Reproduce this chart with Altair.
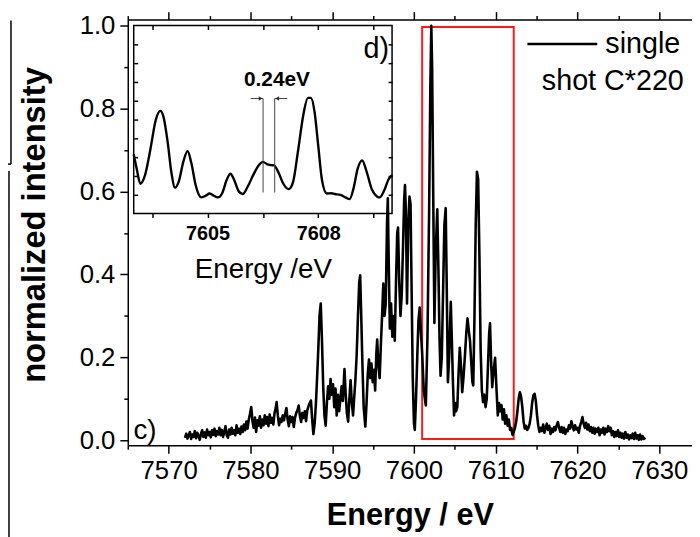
import altair as alt
import pandas as pd

FONT = "Liberation Sans"

# ---------------- data ----------------
# main spectrum: (energy eV, normalized intensity)
spectrum_points = [
    (7572.00, 0.006), (7572.15, 0.016), (7572.30, 0.004), (7572.45, 0.012), (7572.60, 0.020),
    (7572.75, 0.003), (7572.90, 0.014), (7573.05, 0.008), (7573.20, 0.022), (7573.35, 0.005),
    (7573.50, 0.018), (7573.65, 0.010), (7573.80, 0.001), (7573.95, 0.016), (7574.10, 0.024),
    (7574.25, 0.008), (7574.40, 0.019), (7574.55, 0.006), (7574.70, 0.026), (7574.85, 0.012),
    (7575.00, 0.020), (7575.15, 0.007), (7575.30, 0.024), (7575.45, 0.013), (7575.60, 0.028),
    (7575.75, 0.010), (7575.90, 0.022), (7576.05, 0.014), (7576.20, 0.030), (7576.35, 0.012),
    (7576.50, 0.025), (7576.65, 0.008), (7576.80, 0.020), (7576.95, 0.034), (7577.10, 0.012),
    (7577.25, 0.006), (7577.40, 0.026), (7577.55, 0.014), (7577.70, 0.030), (7577.85, 0.016),
    (7578.00, 0.024), (7578.15, 0.012), (7578.30, 0.036), (7578.45, 0.018), (7578.60, 0.028),
    (7578.75, 0.015), (7578.90, 0.033), (7579.05, 0.020), (7579.20, 0.038), (7579.35, 0.024),
    (7579.50, 0.045), (7579.65, 0.028), (7579.80, 0.050), (7579.95, 0.064), (7580.10, 0.080),
    (7580.25, 0.046), (7580.40, 0.030), (7580.55, 0.055), (7580.70, 0.020), (7580.85, 0.048),
    (7581.00, 0.035), (7581.15, 0.058), (7581.30, 0.030), (7581.45, 0.050), (7581.60, 0.036),
    (7581.75, 0.060), (7581.90, 0.040), (7582.05, 0.056), (7582.20, 0.034), (7582.35, 0.062),
    (7582.50, 0.042), (7582.65, 0.054), (7582.80, 0.038), (7582.95, 0.066), (7583.10, 0.078),
    (7583.20, 0.092), (7583.35, 0.060), (7583.50, 0.036), (7583.65, 0.052), (7583.80, 0.044),
    (7583.95, 0.060), (7584.10, 0.048), (7584.25, 0.064), (7584.40, 0.078), (7584.55, 0.050),
    (7584.70, 0.034), (7584.85, 0.058), (7585.00, 0.044), (7585.15, 0.056), (7585.30, 0.032),
    (7585.45, 0.054), (7585.60, 0.066), (7585.75, 0.072), (7585.90, 0.084), (7586.05, 0.058),
    (7586.20, 0.044), (7586.35, 0.066), (7586.50, 0.054), (7586.65, 0.070), (7586.80, 0.046),
    (7586.95, 0.072), (7587.10, 0.082), (7587.25, 0.090), (7587.40, 0.096), (7587.55, 0.050),
    (7587.70, 0.015), (7587.85, 0.040), (7588.00, 0.085), (7588.15, 0.150), (7588.30, 0.220),
    (7588.45, 0.300), (7588.60, 0.330), (7588.75, 0.240), (7588.90, 0.130), (7589.05, 0.060),
    (7589.20, 0.035), (7589.35, 0.090), (7589.50, 0.130), (7589.65, 0.100), (7589.80, 0.148),
    (7589.95, 0.110), (7590.10, 0.135), (7590.25, 0.080), (7590.40, 0.125), (7590.55, 0.060),
    (7590.70, 0.110), (7590.85, 0.070), (7591.00, 0.100), (7591.15, 0.130), (7591.30, 0.095),
    (7591.50, 0.172), (7591.65, 0.110), (7591.80, 0.065), (7591.95, 0.045), (7592.10, 0.100),
    (7592.25, 0.145), (7592.40, 0.090), (7592.55, 0.060), (7592.70, 0.105), (7592.85, 0.150),
    (7593.00, 0.210), (7593.15, 0.300), (7593.30, 0.380), (7593.42, 0.398), (7593.55, 0.300),
    (7593.70, 0.180), (7593.85, 0.080), (7594.05, 0.033), (7594.20, 0.090), (7594.35, 0.160),
    (7594.50, 0.195), (7594.65, 0.150), (7594.80, 0.185), (7594.95, 0.140), (7595.10, 0.170),
    (7595.25, 0.120), (7595.40, 0.210), (7595.50, 0.243), (7595.65, 0.180), (7595.80, 0.150),
    (7595.95, 0.230), (7596.10, 0.300), (7596.25, 0.378), (7596.40, 0.300), (7596.55, 0.330),
    (7596.70, 0.520), (7596.80, 0.584), (7596.92, 0.420), (7597.05, 0.270), (7597.20, 0.330),
    (7597.35, 0.250), (7597.50, 0.300), (7597.65, 0.240), (7597.80, 0.380), (7597.95, 0.500),
    (7598.05, 0.513), (7598.20, 0.380), (7598.35, 0.300), (7598.50, 0.350), (7598.65, 0.460),
    (7598.80, 0.580), (7598.90, 0.616), (7599.00, 0.560), (7599.15, 0.330), (7599.30, 0.520),
    (7599.45, 0.588), (7599.58, 0.570), (7599.72, 0.350), (7599.85, 0.150), (7600.00, 0.040),
    (7600.10, 0.025), (7600.25, 0.100), (7600.40, 0.200), (7600.55, 0.290), (7600.70, 0.320),
    (7600.85, 0.260), (7601.00, 0.210), (7601.20, 0.120), (7601.45, 0.084), (7601.65, 0.250),
    (7601.85, 0.550), (7602.00, 0.850), (7602.12, 1.000), (7602.22, 0.900), (7602.35, 0.600),
    (7602.50, 0.283), (7602.65, 0.450), (7602.85, 0.557), (7603.00, 0.400), (7603.12, 0.250),
    (7603.25, 0.156), (7603.40, 0.200), (7603.55, 0.350), (7603.72, 0.520), (7603.88, 0.560),
    (7604.00, 0.380), (7604.15, 0.140), (7604.30, 0.200), (7604.50, 0.334), (7604.62, 0.250),
    (7604.75, 0.150), (7604.90, 0.060), (7605.05, 0.090), (7605.15, 0.070), (7605.30, 0.080),
    (7605.45, 0.160), (7605.60, 0.223), (7605.75, 0.180), (7605.90, 0.116), (7606.05, 0.150),
    (7606.25, 0.210), (7606.40, 0.260), (7606.55, 0.294), (7606.70, 0.265), (7606.85, 0.240),
    (7607.00, 0.190), (7607.15, 0.140), (7607.25, 0.132), (7607.40, 0.300), (7607.55, 0.520),
    (7607.70, 0.648), (7607.85, 0.630), (7608.00, 0.450), (7608.15, 0.220), (7608.30, 0.120),
    (7608.45, 0.092), (7608.60, 0.110), (7608.75, 0.080), (7608.90, 0.100), (7609.05, 0.180),
    (7609.20, 0.260), (7609.30, 0.282), (7609.45, 0.180), (7609.57, 0.128), (7609.75, 0.170),
    (7609.92, 0.199), (7610.10, 0.120), (7610.25, 0.060), (7610.40, 0.090), (7610.55, 0.070),
    (7610.70, 0.085), (7610.85, 0.050), (7611.00, 0.075), (7611.15, 0.040), (7611.30, 0.060),
    (7611.45, 0.035), (7611.60, 0.050), (7611.75, 0.025), (7611.90, 0.030), (7612.05, 0.013),
    (7612.20, 0.020), (7612.35, 0.030), (7612.50, 0.045), (7612.65, 0.070), (7612.80, 0.100),
    (7612.95, 0.116), (7613.10, 0.105), (7613.25, 0.080), (7613.40, 0.045), (7613.55, 0.028),
    (7613.70, 0.035), (7613.85, 0.025), (7614.00, 0.030), (7614.15, 0.040), (7614.30, 0.060),
    (7614.45, 0.090), (7614.60, 0.108), (7614.75, 0.112), (7614.90, 0.095), (7615.05, 0.060),
    (7615.20, 0.035), (7615.35, 0.020), (7615.50, 0.030), (7615.65, 0.022), (7615.80, 0.038),
    (7615.95, 0.018), (7616.10, 0.030), (7616.25, 0.040), (7616.40, 0.025), (7616.55, 0.035),
    (7616.70, 0.015), (7616.85, 0.028), (7617.00, 0.020), (7617.15, 0.032), (7617.30, 0.024),
    (7617.45, 0.036), (7617.60, 0.044), (7617.75, 0.030), (7617.90, 0.020), (7618.05, 0.032),
    (7618.20, 0.018), (7618.35, 0.030), (7618.50, 0.015), (7618.65, 0.026), (7618.80, 0.022),
    (7618.95, 0.036), (7619.10, 0.028), (7619.25, 0.046), (7619.40, 0.034), (7619.55, 0.024),
    (7619.70, 0.036), (7619.85, 0.026), (7620.00, 0.030), (7620.15, 0.018), (7620.30, 0.034),
    (7620.45, 0.044), (7620.60, 0.056), (7620.75, 0.040), (7620.90, 0.030), (7621.05, 0.042),
    (7621.20, 0.026), (7621.35, 0.038), (7621.50, 0.022), (7621.65, 0.032), (7621.80, 0.018),
    (7621.95, 0.030), (7622.10, 0.016), (7622.25, 0.028), (7622.40, 0.020), (7622.55, 0.030),
    (7622.70, 0.012), (7622.85, 0.026), (7623.00, 0.018), (7623.15, 0.030), (7623.30, 0.014),
    (7623.45, 0.028), (7623.60, 0.020), (7623.75, 0.034), (7623.90, 0.022), (7624.05, 0.030),
    (7624.20, 0.012), (7624.35, 0.022), (7624.50, 0.008), (7624.65, 0.020), (7624.80, 0.010),
    (7624.95, 0.024), (7625.10, 0.008), (7625.25, 0.018), (7625.40, 0.006), (7625.55, 0.016),
    (7625.70, 0.004), (7625.85, 0.020), (7626.00, 0.006), (7626.15, 0.014), (7626.30, 0.002),
    (7626.45, 0.012), (7626.60, 0.005), (7626.75, 0.016), (7626.90, 0.003), (7627.05, 0.018),
    (7627.20, 0.004), (7627.35, 0.012), (7627.50, 0.001), (7627.65, 0.014), (7627.80, 0.002),
    (7627.95, 0.010), (7628.10, 0.003), (7628.30, 0.006),
]

# inset spectrum (panel d), arbitrary units 0..1 across the inset height
inset_points = [
    (7603.00, 0.316), (7603.08, 0.240), (7603.18, 0.159), (7603.30, 0.200), (7603.45, 0.340),
    (7603.60, 0.500), (7603.72, 0.546), (7603.80, 0.520), (7603.92, 0.380), (7604.02, 0.220),
    (7604.12, 0.138), (7604.22, 0.170), (7604.35, 0.280), (7604.46, 0.332), (7604.56, 0.270),
    (7604.68, 0.150), (7604.83, 0.086), (7604.95, 0.095), (7605.06, 0.107), (7605.17, 0.095),
    (7605.28, 0.086), (7605.40, 0.110), (7605.52, 0.180), (7605.62, 0.212), (7605.72, 0.180),
    (7605.84, 0.120), (7605.95, 0.104), (7606.08, 0.140), (7606.25, 0.210), (7606.40, 0.260),
    (7606.50, 0.275), (7606.62, 0.262), (7606.72, 0.258), (7606.80, 0.256), (7606.92, 0.220),
    (7607.05, 0.160), (7607.20, 0.130), (7607.32, 0.170), (7607.45, 0.330), (7607.60, 0.530),
    (7607.72, 0.615), (7607.80, 0.615), (7607.90, 0.540), (7608.00, 0.360), (7608.10, 0.180),
    (7608.23, 0.107), (7608.35, 0.108), (7608.45, 0.104), (7608.60, 0.100), (7608.75, 0.085),
    (7608.85, 0.077), (7608.95, 0.130), (7609.07, 0.240), (7609.19, 0.283), (7609.30, 0.230),
    (7609.45, 0.130), (7609.60, 0.090), (7609.66, 0.086), (7609.78, 0.120), (7609.90, 0.180),
    (7610.00, 0.204),
]

x_major = [7570, 7580, 7590, 7600, 7610, 7620, 7630]
x_minor = [7565, 7575, 7585, 7595, 7605, 7615, 7625]
y_major = [0.0, 0.2, 0.4, 0.6, 0.8, 1.0]
y_minor = [0.1, 0.3, 0.5, 0.7, 0.9]
inset_x_ticks = [7603.5, 7605, 7606.5, 7608, 7609.5]
inset_y_ticks = [0.1, 0.2, 0.3, 0.4, 0.5, 0.6, 0.7, 0.8, 0.9]

box_x, box_x2, box_y, box_y2 = [7601.0], [7612.2], [0.003], [0.997]
inset_x, inset_x2, inset_y, inset_y2 = [7603.0], [7610.0], [0.0], [1.0]
marker_x = [7606.505, 7606.82]
marker_y, marker_y2 = [0.112, 0.112], [0.612, 0.612]
arrow_x, arrow_x2, arrow_y = [7606.17, 7606.82], [7606.505, 7607.16], [0.612, 0.612]
head_x, head_y, head_shape = [7606.44, 7606.885], [0.612, 0.612], ["triangle-right", "triangle-left"]
legend_x, legend_x2, legend_y = [7613.87], [7622.41], [0.956]

# ---------------- layout ----------------
W, H = 570, 430
X_DOMAIN = [7565, 7634]
Y_DOMAIN = [-0.012, 1.015]
INSET_X_DOMAIN = [7603, 7610]
INSET_Y_DOMAIN = [0, 1]
IX0, IX1 = 6, 267      # inset pixel range (horizontal)
IY0, IY1 = 6, 196      # inset pixel range (vertical, top/bottom)

xs = alt.Scale(domain=X_DOMAIN, nice=False, zero=False)
ys = alt.Scale(domain=Y_DOMAIN, nice=False, zero=False)
ixs = alt.Scale(domain=INSET_X_DOMAIN, range=[IX0, IX1], nice=False, zero=False)
iys = alt.Scale(domain=INSET_Y_DOMAIN, range=[IY1, IY0], nice=False, zero=False)

main_df = pd.DataFrame(spectrum_points, columns=["E", "I"])
inset_df = pd.DataFrame(inset_points, columns=["E", "I"])

AX = dict(grid=False, domainColor="black", tickColor="black", domainWidth=1.5,
          tickWidth=1.5, labelColor="black", titleColor="black", labelFont=FONT,
          titleFont=FONT, labelOverlap=False, labelFlush=False)


def ghost(df, xscale, yscale, xaxis, yaxis):
    return alt.Chart(df).mark_line(strokeOpacity=0).encode(
        x=alt.X("E:Q", scale=xscale, axis=xaxis),
        y=alt.Y("I:Q", scale=yscale, axis=yaxis),
    )


# main axes
main_axes = ghost(
    main_df, xs, ys,
    alt.Axis(orient="bottom", values=x_major, format="d", tickSize=8, labelPadding=5,
             labelFontSize=26, title="Energy / eV", titleFontSize=31,
             titleFontWeight="bold", titlePadding=17, **AX),
    alt.Axis(orient="left", values=y_major, format=".1f", tickSize=8, labelPadding=5,
             labelFontSize=26, title="normalized intensity", titleFontSize=33,
             titleFontWeight="bold", titlePadding=28, titleY=207, **AX),
)
main_minor = ghost(
    main_df, xs, ys,
    alt.Axis(orient="bottom", values=x_minor, tickSize=4, labels=False, domain=False,
             title=None, **AX),
    alt.Axis(orient="left", values=y_minor, tickSize=4, labels=False, domain=False,
             title=None, **AX),
)
top_major = ghost(
    main_df, xs, ys,
    alt.Axis(orient="top", values=x_major, tickSize=8, labels=False, title=None, **AX),
    None,
)
top_minor = ghost(
    main_df, xs, ys,
    alt.Axis(orient="top", values=x_minor, tickSize=4, labels=False, domain=False,
             title=None, **AX),
    None,
)

red_box = alt.Chart(pd.DataFrame({"x": box_x, "x2": box_x2, "y": box_y, "y2": box_y2})).mark_rect(
    fillOpacity=0, stroke="#ff1a1a", strokeWidth=2
).encode(
    x=alt.X("x:Q", scale=xs, axis=None), x2="x2:Q",
    y=alt.Y("y:Q", scale=ys, axis=None), y2="y2:Q",
)

main_line = alt.Chart(main_df).mark_line(color="black", strokeWidth=2.6, strokeJoin="round").encode(
    x=alt.X("E:Q", scale=xs, axis=None),
    y=alt.Y("I:Q", scale=ys, axis=None),
)

c_label = alt.Chart(pd.DataFrame({"x": [7565.7], "y": [0.022], "t": ["c)"]})).mark_text(
    align="left", baseline="middle", fontSize=28, font=FONT, color="black"
).encode(x=alt.X("x:Q", scale=xs, axis=None), y=alt.Y("y:Q", scale=ys, axis=None), text="t:N")

legend_line = alt.Chart(pd.DataFrame({"x": legend_x, "x2": legend_x2, "y": legend_y})).mark_rule(
    color="black", strokeWidth=2.4
).encode(x=alt.X("x:Q", scale=xs, axis=None), x2="x2:Q", y=alt.Y("y:Q", scale=ys, axis=None))

legend_t1 = alt.Chart(pd.DataFrame({"x": [7623.4], "y": [0.956], "t": ["single"]})).mark_text(
    align="left", baseline="middle", fontSize=29, font=FONT, color="black"
).encode(x=alt.X("x:Q", scale=xs, axis=None), y=alt.Y("y:Q", scale=ys, axis=None), text="t:N")

legend_t2 = alt.Chart(pd.DataFrame({"x": [7633.0], "y": [0.867], "t": ["shot C*220"]})).mark_text(
    align="right", baseline="middle", fontSize=29, font=FONT, color="black"
).encode(x=alt.X("x:Q", scale=xs, axis=None), y=alt.Y("y:Q", scale=ys, axis=None), text="t:N")

# ---------------- inset ----------------
IAX = dict(AX, zindex=1)
inset_frame = alt.Chart(pd.DataFrame({"x": inset_x, "x2": inset_x2, "y": inset_y, "y2": inset_y2})).mark_rect(
    fill="white", stroke="black", strokeWidth=1.5
).encode(
    x=alt.X("x:Q", scale=ixs, axis=None), x2="x2:Q",
    y=alt.Y("y:Q", scale=iys, axis=None), y2="y2:Q",
)

inset_axes_a = ghost(
    inset_df, ixs, iys,
    alt.Axis(orient="bottom", offset=IY1 - H, values=inset_x_ticks, tickSize=4,
             domain=False, labelExpr="(datum.value == 7605 || datum.value == 7608) ? format(datum.value, 'd') : ''",
             labelFontSize=20, labelFontWeight="bold", labelPadding=6,
             title="Energy /eV", titleFontSize=28, titleFontWeight="normal", titlePadding=13, **IAX),
    alt.Axis(orient="right", offset=IX0 - W, values=inset_y_ticks, tickSize=4,
             domain=False, labels=False, title=None, **IAX),
)
inset_axes_b = ghost(
    inset_df, ixs, iys,
    alt.Axis(orient="bottom", offset=IY0 - H, values=inset_x_ticks, tickSize=4,
             domain=False, labels=False, title=None, **IAX),
    alt.Axis(orient="left", offset=-IX1, values=inset_y_ticks, tickSize=4,
             domain=False, labels=False, title=None, **IAX),
)

inset_line = alt.Chart(inset_df).mark_line(color="black", strokeWidth=2.4, interpolate="monotone").encode(
    x=alt.X("E:Q", scale=ixs, axis=None),
    y=alt.Y("I:Q", scale=iys, axis=None),
)

markers = alt.Chart(pd.DataFrame({"x": marker_x, "y": marker_y, "y2": marker_y2})).mark_rule(
    color="#444", strokeWidth=1
).encode(x=alt.X("x:Q", scale=ixs, axis=None), y=alt.Y("y:Q", scale=iys, axis=None), y2="y2:Q")

arrows = alt.Chart(pd.DataFrame({"x": arrow_x, "x2": arrow_x2, "y": arrow_y})).mark_rule(
    color="#444", strokeWidth=1
).encode(x=alt.X("x:Q", scale=ixs, axis=None), x2="x2:Q", y=alt.Y("y:Q", scale=iys, axis=None))

heads = alt.Chart(pd.DataFrame({"x": head_x, "y": head_y, "s": head_shape})).mark_point(
    filled=True, size=22, color="#333", opacity=1
).encode(
    x=alt.X("x:Q", scale=ixs, axis=None), y=alt.Y("y:Q", scale=iys, axis=None),
    shape=alt.Shape("s:N", scale=None, legend=None),
)

gap_label = alt.Chart(pd.DataFrame({"x": [7606.88], "y": [0.71], "t": ["0.24eV"]})).mark_text(
    align="center", baseline="middle", fontSize=21, fontWeight="bold", font=FONT, color="black"
).encode(x=alt.X("x:Q", scale=ixs, axis=None), y=alt.Y("y:Q", scale=iys, axis=None), text="t:N")

d_label = alt.Chart(pd.DataFrame({"x": [7609.92], "y": [0.875], "t": ["d)"]})).mark_text(
    align="right", baseline="middle", fontSize=29, font=FONT, color="black"
).encode(x=alt.X("x:Q", scale=ixs, axis=None), y=alt.Y("y:Q", scale=iys, axis=None), text="t:N")

# neighbouring panel's frame edge, visible at the far left of the picture
stub = pd.DataFrame({"a": [0]})
edge1 = alt.Chart(stub).mark_rule(color="black", strokeWidth=1.5).encode(
    x=alt.value(-118), y=alt.value(1), y2=alt.value(146))
edge2 = alt.Chart(stub).mark_rule(color="black", strokeWidth=1.5).encode(
    x=alt.value(-130), x2=alt.value(-118), y=alt.value(146))
edge3 = alt.Chart(stub).mark_rule(color="black", strokeWidth=1.5).encode(
    x=alt.value(-120), y=alt.value(153), y2=alt.value(530))

chart = alt.layer(
    main_axes, main_minor, top_major, top_minor,
    red_box,
    inset_frame, inset_axes_a, inset_axes_b, inset_line, markers, arrows, heads,
    gap_label, d_label,
    main_line, c_label, legend_line, legend_t1, legend_t2,
    edge1, edge2, edge3,
).resolve_scale(
    x="independent", y="independent"
).properties(
    width=W, height=H,
    autosize=alt.AutoSizeParams(type="none"),
    padding={"left": 121, "top": 9, "right": 0, "bottom": 90},
).configure_view(stroke=None).configure_text(font=FONT)

chart.save("out.html", embed_options={"renderer": "svg", "actions": False})
